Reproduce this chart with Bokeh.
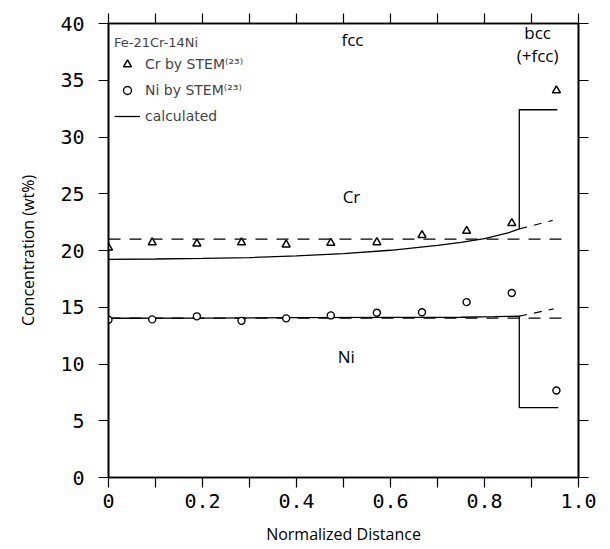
from bokeh.plotting import figure
from bokeh.models import (LinearAxis, FixedTicker, Legend, LegendItem, Range1d,
                          ColumnDataSource)
from bokeh.core.properties import value
from bokeh.embed import file_html
from bokeh.resources import INLINE

# --- measured STEM compositions (wt%) along the normalized distance ---
dist = [0.0, 0.093, 0.188, 0.283, 0.378, 0.473, 0.571, 0.667, 0.762, 0.858, 0.953]
cr_stem = [20.24, 20.7, 20.6, 20.7, 20.52, 20.67, 20.72, 21.35, 21.72, 22.4, 34.1]
ni_stem = [13.9, 13.93, 14.2, 13.8, 14.02, 14.28, 14.52, 14.56, 15.45, 16.25, 7.66]

# --- calculated profiles (fcc part, then the bcc step) ---
cr_calc_x = [0.0, 0.1, 0.2, 0.3, 0.4, 0.5, 0.6, 0.7, 0.75, 0.8, 0.85, 0.874, 0.874, 0.955]
cr_calc_y = [19.22, 19.25, 19.3, 19.38, 19.52, 19.72, 20.02, 20.45, 20.72, 21.05, 21.55, 21.9, 32.4, 32.4]
ni_calc_x = [0.0, 0.2, 0.4, 0.6, 0.75, 0.82, 0.874, 0.874, 0.957]
ni_calc_y = [14.03, 14.05, 14.08, 14.1, 14.12, 14.17, 14.22, 6.15, 6.15]

# dashed continuation of the calculated curves past the step
cr_ext_x = [0.874, 0.945]
cr_ext_y = [21.9, 22.65]
ni_ext_x = [0.874, 0.947]
ni_ext_y = [14.22, 14.85]

# nominal alloy levels
nominal_x = [0.0, 0.977]
cr_nominal = [21.0, 21.0]
ni_nominal = [14.05, 14.05]

# in-plot annotations
note_text = ["fcc", "bcc", "(+fcc)", "Cr", "Ni"]
note_x = [0.519, 0.913, 0.913, 0.517, 0.506]
note_y = [38.6, 39.2, 37.2, 24.8, 10.65]

x_label_ticks = [0.0, 0.2, 0.4, 0.6, 0.8, 1.0]
x_tick_labels = ["0", "0.2", "0.4", "0.6", "0.8", "1.0"]
x_mid_ticks = [0.1, 0.3, 0.5, 0.7, 0.9]
y_ticks = [0, 5, 10, 15, 20, 25, 30, 35, 40]

TEXT_FONT = "Open Sans"
LEGEND_FONT = "DejaVu Sans"
TICK_FONT = "DejaVu Sans Mono"

p = figure(width=610, height=549, x_range=Range1d(0, 1.0), y_range=Range1d(0, 40),
           output_backend="svg", toolbar_location=None,
           min_border_left=108, min_border_right=32, min_border_top=23, min_border_bottom=72)
p.xgrid.visible = False
p.ygrid.visible = False
p.background_fill_color = "white"
p.border_fill_color = "white"
p.outline_line_color = "black"
p.outline_line_width = 1.6


def style_axis(ax, major, minor):
    ax.ticker = FixedTicker(ticks=major, minor_ticks=minor)
    ax.axis_line_width = 1.6
    ax.axis_line_color = "black"
    ax.major_tick_in = 0
    ax.major_tick_out = 10
    ax.major_tick_line_width = 1.2
    ax.minor_tick_in = 0
    ax.minor_tick_out = 10
    ax.minor_tick_line_width = 1.2
    ax.major_label_text_font = TICK_FONT
    ax.major_label_text_font_size = "20px"
    ax.major_label_text_color = "black"


style_axis(p.xaxis[0], x_label_ticks, x_mid_ticks)
p.xaxis[0].major_label_overrides = {t: s for t, s in zip(x_label_ticks, x_tick_labels)}
p.xaxis[0].major_label_standoff = 6
p.xaxis[0].axis_label = "Normalized Distance"
p.xaxis[0].axis_label_standoff = 12

style_axis(p.yaxis[0], y_ticks, [])
p.yaxis[0].major_label_standoff = 14
p.yaxis[0].axis_label = "Concentration (wt%)"
p.yaxis[0].axis_label_standoff = 18

for ax in (p.xaxis[0], p.yaxis[0]):
    ax.axis_label_text_font = TEXT_FONT
    ax.axis_label_text_font_size = "16px"
    ax.axis_label_text_font_style = "normal"
    ax.axis_label_text_color = "black"

# tick marks only on the top and right edges
top_axis = LinearAxis()
style_axis(top_axis, [], x_label_ticks + x_mid_ticks)
p.add_layout(top_axis, "above")
right_axis = LinearAxis()
style_axis(right_axis, [], y_ticks)
p.add_layout(right_axis, "right")

# nominal composition lines
p.line(nominal_x, cr_nominal, line_color="black", line_width=1.3, line_dash="12 9")
p.line(nominal_x, ni_nominal, line_color="black", line_width=1.3, line_dash="12 9")

# calculated profiles
r_calc = p.line(cr_calc_x, cr_calc_y, line_color="black", line_width=1.3)
p.line(ni_calc_x, ni_calc_y, line_color="black", line_width=1.3)
p.line(cr_ext_x, cr_ext_y, line_color="black", line_width=1.2, line_dash="8 7")
p.line(ni_ext_x, ni_ext_y, line_color="black", line_width=1.2, line_dash="8 7")

# STEM measurements
src = ColumnDataSource(dict(x=dist, cr=cr_stem, ni=ni_stem))
r_cr = p.scatter("x", "cr", source=src, marker="triangle", size=8,
                 fill_color="white", line_color="black", line_width=1.5)
r_ni = p.scatter("x", "ni", source=src, marker="circle", size=7,
                 fill_color="white", line_color="black", line_width=1.4)

# phase and element annotations
notes = ColumnDataSource(dict(x=note_x, y=note_y, t=note_text))
p.text("x", "y", text="t", source=notes, text_font=value(TEXT_FONT),
       text_font_size="17px", text_align="center", text_baseline="middle",
       text_color="black")

legend = Legend(
    items=[LegendItem(label="Cr by STEM⁽²³⁾", renderers=[r_cr]),
           LegendItem(label="Ni by STEM⁽²³⁾", renderers=[r_ni]),
           LegendItem(label="calculated", renderers=[r_calc])],
    title="Fe-21Cr-14Ni", location=(6, 351),
    title_text_font=LEGEND_FONT, title_text_font_size="13px",
    title_text_font_style="normal", title_standoff=4,
    label_text_font=LEGEND_FONT, label_text_font_size="14px",
    glyph_width=26, glyph_height=20, label_height=20, label_standoff=5,
    spacing=6, padding=0, margin=0,
    border_line_color=None, background_fill_alpha=0,
)
p.add_layout(legend)

open("out.html", "w").write(file_html(p, INLINE))
